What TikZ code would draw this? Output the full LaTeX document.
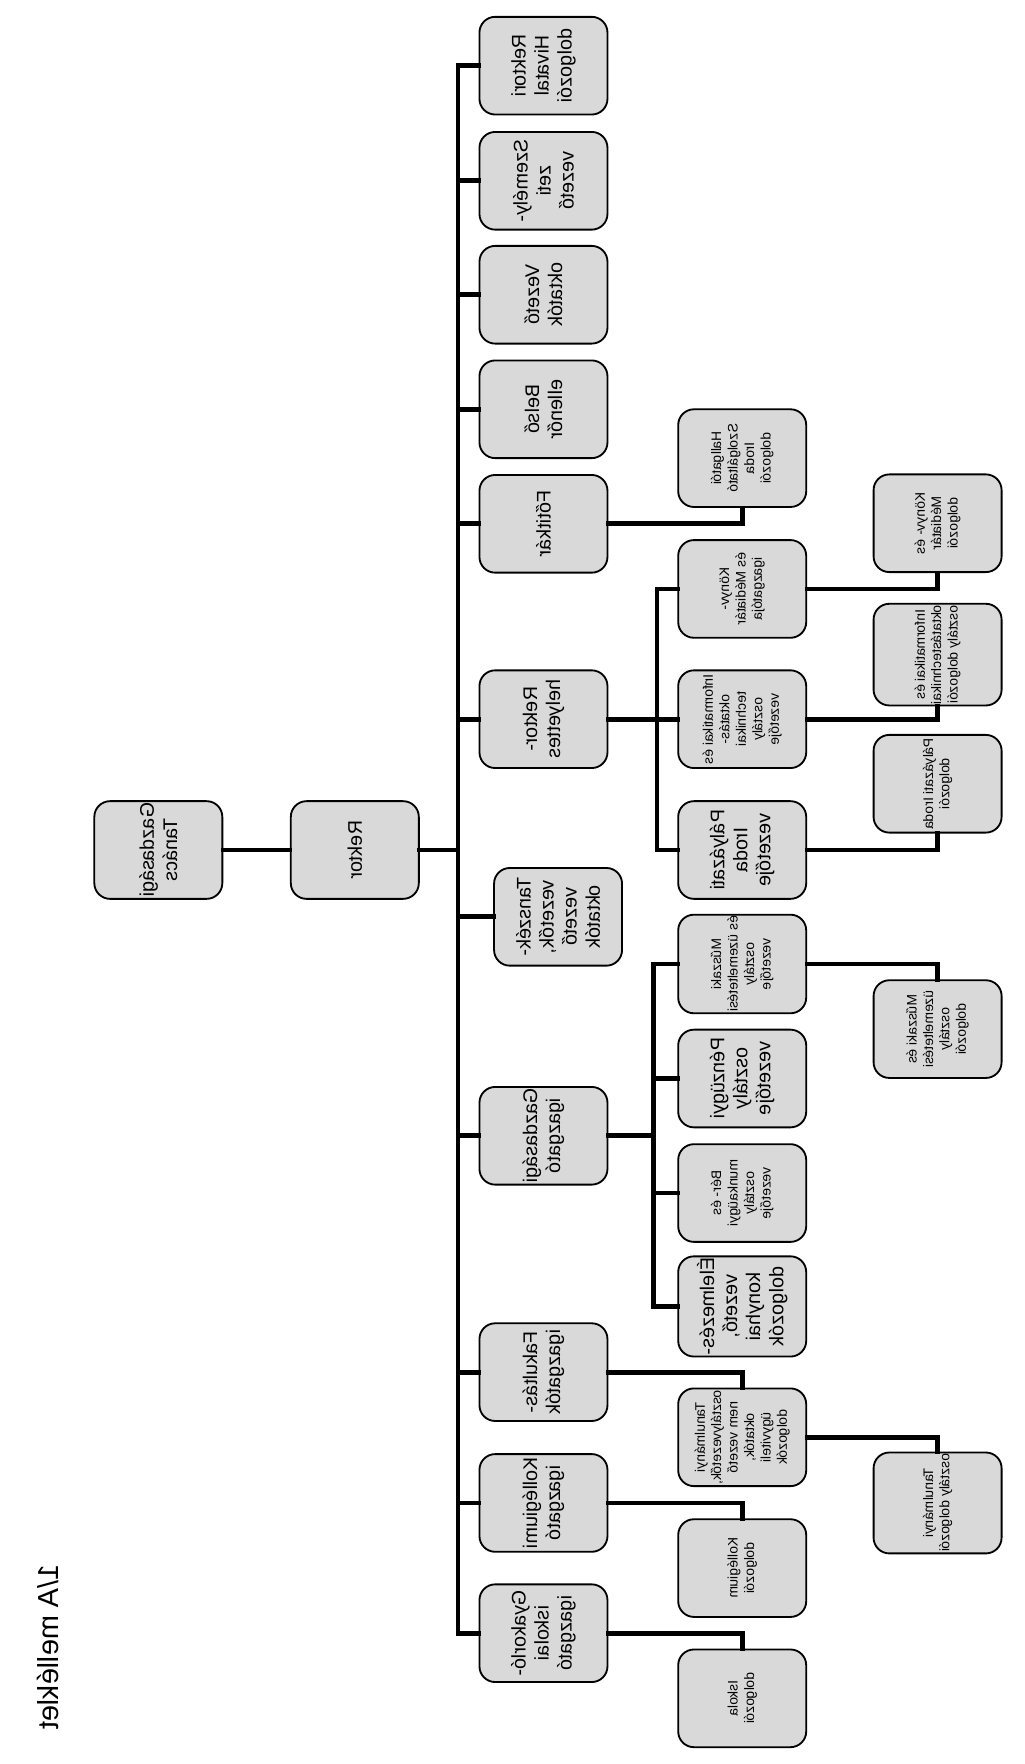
\documentclass[tikz,border=0pt]{standalone}
\usepackage{fontspec}
\setmainfont{Liberation Sans}
\usetikzlibrary{positioning, calc}
\definecolor{uFill}{HTML}{D9D9D9}
\tikzset{
    Box/.style = {
        cm={0,-1,-1,0,(0,0)}, transform shape,
        draw, line width=1.4pt, rounded corners=0.42cm,
        fill=uFill, align=center, inner sep=1pt,
        minimum width=2.61cm, minimum height=3.42cm,
        font=\fontsize{15}{17.5}\selectfont
    },
    Small/.style = {font=\fontsize{10.5}{12.5}\selectfont},
    Link/.style = {line width=3.6pt, line cap=rect}
}
\begin{document}
\begin{tikzpicture}[x=0.03cm, y=-0.03cm]
    \useasboundingbox (0,0) rectangle (912,1571);
    \node[cm={0,-1,-1,0,(0,0)}, transform shape,
          font=\fontsize{22}{26}\selectfont] (title) at (43,1467) {1/A melléklet};

    % top
    \node[Box] (GT) at (141,757) {Gazdasági\\Tanács};
    \node[Box] (R) at (316,757) {Rektor};
    \coordinate (top) at (408,58.5);
    \coordinate (bot) at (408,1454.5);

    % second level
    \node[Box] (RH) at (484,58.5) {Rektori\\Hivatal\\dolgozói};
    \node[Box] (SZ) at (484,161) {Személy-\\zeti\\vezető};
    \node[Box] (VO) at (484,262.5) {Vezető\\oktatók};
    \node[Box] (BE) at (484,364.5) {Belső\\ellenőr};
    \node[Box] (FT) at (484,466.5) {Főtitkár};
    \node[Box] (RHE) at (484,640.5) {Rektor-\\helyettes};
    \node[Box] (TV) at (497,816.5) {Tanszék-\\vezetők,\\vezető\\oktatók};
    \node[Box] (GI) at (484,1011.5) {Gazdasági\\igazgató};
    \node[Box] (FI) at (484,1222) {Fakultás-\\igazgatók};
    \node[Box] (KI) at (484,1338.5) {Kollégiumi\\igazgató};
    \node[Box] (GY) at (484,1454.5) {Gyakorló-\\iskolai\\igazgató};

    % third level
    \node[Box, Small] (HSZ) at (661,408) {Hallgatói\\Szolgáltató\\Iroda\\dolgozói};
    \node[Box, Small] (KM) at (661,524.5) {Könyv-\\és Médiatár\\igazgatója};
    \node[Box, Small] (IO) at (661,640.5) {Informatikai és\\oktatás-\\technikai\\osztály\\vezetője};
    \node[Box] (PI) at (661,757) {Pályázati\\Iroda\\vezetője};
    \node[Box, Small] (MU) at (661,858.5) {Műszaki\\és üzemeltetési\\osztály\\vezetője};
    \node[Box] (PE) at (661,960.5) {Pénzügyi\\osztály\\vezetője};
    \node[Box, Small] (BM) at (661,1062.5) {Bér- és\\munkaügyi\\osztály\\vezetője};
    \node[Box] (EL) at (661,1163.5) {Élelmezés-\\vezető,\\konyhai\\dolgozók};
    \node[Box, Small] (TO) at (661,1280) {Tanulmányi\\osztályvezetők,\\nem vezető\\oktatók,\\ügyviteli\\dolgozók};
    \node[Box, Small] (KD) at (661,1396.5) {Kollégium\\dolgozói};
    \node[Box, Small] (ID) at (661,1512.5) {Iskola\\dolgozói};

    % fourth level
    \node[Box, Small] (KMD) at (835,466) {Könyv- és\\Médiatár\\dolgozói};
    \node[Box, Small] (IOD) at (835,583) {Informatikai és\\oktatástechnikai\\osztály dolgozói};
    \node[Box, Small] (PID) at (835,698) {Pályázati Iroda\\dolgozói};
    \node[Box, Small] (MUD) at (835,916.5) {Műszaki és\\üzemeltetési\\osztály\\dolgozói};
    \node[Box, Small] (TOD) at (835,1338.5) {Tanulmányi\\osztály dolgozói};

    \coordinate (rhB) at (585,640.5);
    \coordinate (gB) at (582,1011.5);

    % links
    \draw[Link] (GT.south) -- (R.north);
    \draw[Link] (top) -- (bot);
    \draw[Link] (R.south) -- (R.south -| top);
    \foreach \n in {RH, SZ, VO, BE, FT, RHE, TV, GI, FI, KI, GY}
        \draw[Link] (\n.north) -- (\n.north -| top);
    \draw[Link] (FT.south) -| (HSZ.east);
    \draw[Link] (RHE.south) -- (IO.north);
    \draw[Link] (KM.north) -| (rhB) |- (PI.north);
    \draw[Link] (KM.south) -| (KMD.east);
    \draw[Link] (IO.south) -| (IOD.east);
    \draw[Link] (PI.south) -| (PID.east);
    \draw[Link] (GI.south) -- (gB);
    \draw[Link] (MU.north) -| (gB) |- (EL.north);
    \draw[Link] (PE.north) -- (PE.north -| gB);
    \draw[Link] (BM.north) -- (BM.north -| gB);
    \draw[Link] (MU.south) -| (MUD.west);
    \draw[Link] (FI.south) -| (TO.west);
    \draw[Link] (TO.south) -| (TOD.west);
    \draw[Link] (KI.south) -| (KD.west);
    \draw[Link] (GY.south) -| (ID.west);

\end{tikzpicture}
\end{document}
